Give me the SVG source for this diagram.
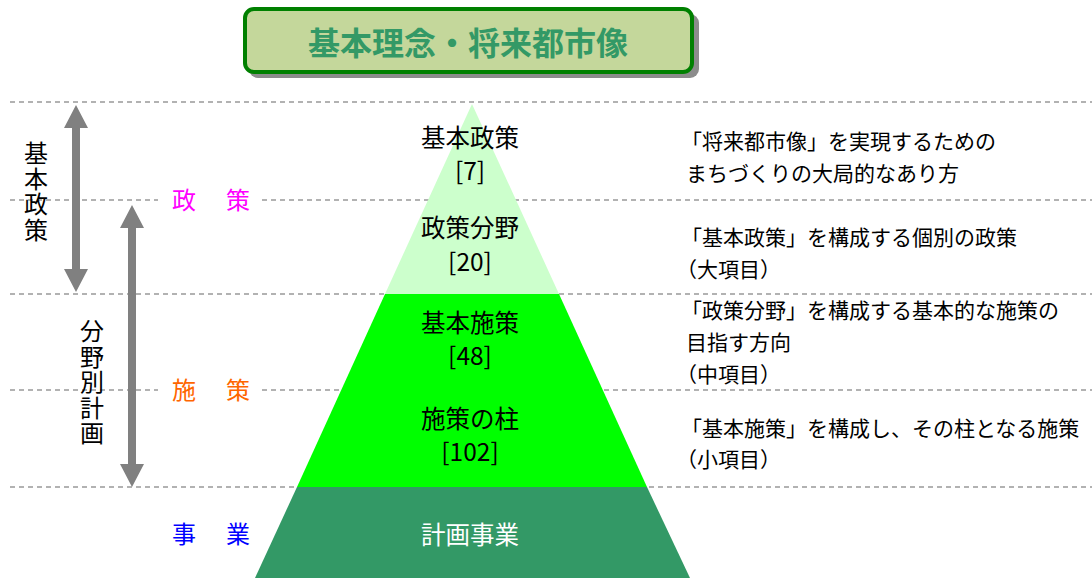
<svg xmlns="http://www.w3.org/2000/svg" width="1092" height="578" viewBox="0 0 1092 578">
<style>
text{font-family:"Noto Sans CJK JP","Noto Sans CJK SC",sans-serif;}
.dash{stroke:#999999;stroke-width:1.3;stroke-dasharray:5 4;fill:none}
.lbl{font-size:24.5px;fill:#000;text-anchor:middle}
.desc{font-size:21px;fill:#000}
.side{font-size:24px}
.vt{font-size:24px;fill:#000;writing-mode:vertical-rl;letter-spacing:1.5px}
.arrow{fill:#808080}
</style>
<rect width="1092" height="578" fill="#ffffff"/>
<g id="guides">
<line class="dash" x1="10" y1="102" x2="1092" y2="102"/>
<line class="dash" x1="10" y1="200" x2="1092" y2="200"/>
<line class="dash" x1="10" y1="294" x2="1092" y2="294"/>
<line class="dash" x1="10" y1="390" x2="1092" y2="390"/>
<line class="dash" x1="10" y1="487" x2="1092" y2="487"/>
</g>
<g id="title">
<rect x="249" y="14" width="450" height="64" rx="9" fill="#8c8c8c"/>
<rect x="245" y="9" width="447" height="63" rx="9" fill="#c4d79b" stroke="#008000" stroke-width="4"/>
<text x="468" y="55" font-size="32" font-weight="bold" fill="#339966" text-anchor="middle">基本理念・将来都市像</text>
</g>
<g id="pyramid">
<polygon points="472,104 559,294 385,294" fill="#ccffcc"/>
<polygon points="385,294 559,294 647,487 297,487" fill="#00ff00"/>
<polygon points="297,487 647,487 690,578 255,578" fill="#339966"/>
</g>
<g id="level1"><text class="lbl" x="470" y="147">基本政策</text><text class="lbl" x="470" y="180">[7]</text></g>
<g id="level2"><text class="lbl" x="470" y="237">政策分野</text><text class="lbl" x="470" y="271">[20]</text></g>
<g id="level3"><text class="lbl" x="470" y="332">基本施策</text><text class="lbl" x="470" y="365">[48]</text></g>
<g id="level4"><text class="lbl" x="470" y="428">施策の柱</text><text class="lbl" x="470" y="461">[102]</text></g>
<g id="level5"><text class="lbl" x="470" y="544" style="fill:#ffffff">計画事業</text></g>
<g id="desc1"><text class="desc" x="681" y="149">「将来都市像」を実現するための</text><text class="desc" x="686" y="181">まちづくりの大局的なあり方</text></g>
<g id="desc2"><text class="desc" x="681" y="245">「基本政策」を構成する個別の政策</text><text class="desc" x="676" y="277">（大項目）</text></g>
<g id="desc3"><text class="desc" x="681" y="318">「政策分野」を構成する基本的な施策の</text><text class="desc" x="686" y="350">目指す方向</text><text class="desc" x="676" y="382">（中項目）</text></g>
<g id="desc4"><text class="desc" x="681" y="436">「基本施策」を構成し、その柱となる施策</text><text class="desc" x="676" y="467">（小項目）</text></g>
<g id="cat1"><rect x="158" y="186" width="102" height="28" fill="#ffffff"/><text class="side" x="172" y="209" fill="#ff00ff">政</text><text class="side" x="226" y="209" fill="#ff00ff">策</text></g>
<g id="cat2"><rect x="158" y="376" width="102" height="28" fill="#ffffff"/><text class="side" x="172" y="399" fill="#ff6600">施</text><text class="side" x="226" y="399" fill="#ff6600">策</text></g>
<g id="cat3"><text class="side" x="172" y="543" fill="#0000ff">事</text><text class="side" x="226" y="543" fill="#0000ff">業</text></g>
<g id="connectors">
<polygon class="arrow" points="76,105 88,128 80,128 80,269 88,269 76,292 64,269 72,269 72,128 64,128"/>
<polygon class="arrow" points="132,205 144,228 136,228 136,464 144,464 132,487 120,464 128,464 128,228 120,228"/>
</g>
<g id="vlabel1"><text class="vt" x="36" y="141">基本政策</text></g>
<g id="vlabel2"><text class="vt" x="92" y="319">分野別計画</text></g>
</svg>
